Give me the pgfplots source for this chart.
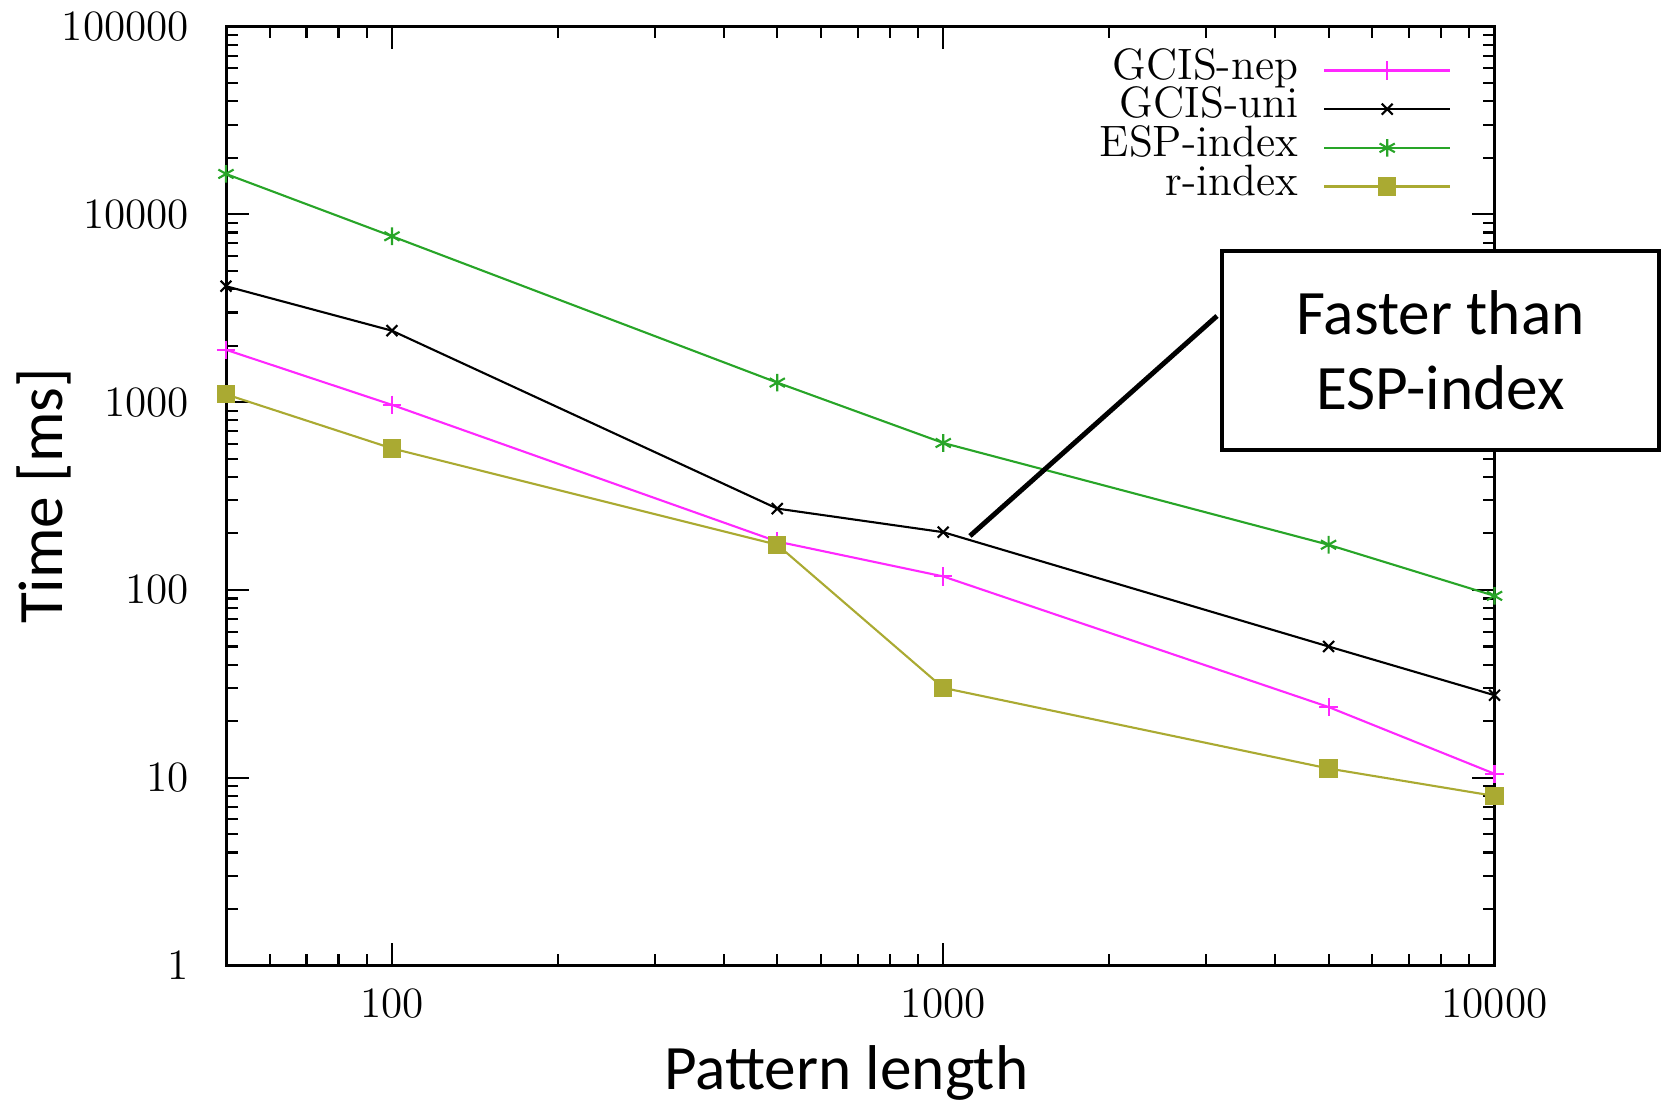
\documentclass[border=0pt]{standalone}
\usepackage{fontspec}
\usepackage{pgfplots}
\pgfplotsset{compat=1.18}
\newfontfamily\carlito{Carlito}
\definecolor{cmag}{RGB}{255,40,255}
\definecolor{cgreen}{RGB}{40,165,40}
\definecolor{colive}{RGB}{170,170,50}
\begin{document}
\begin{tikzpicture}
\path[use as bounding box] (-2.26,-1.354) rectangle (14.36,9.656);
\begin{axis}[
 at={(0,0)}, anchor=south west, name=ax,
 width=12.685cm, height=9.391cm, scale only axis,
 xmode=log, ymode=log,
 xmin=50, xmax=10000, ymin=1, ymax=100000,
 xtick={100,1000,10000}, xticklabels={100,1000,10000},
 ytick={1,10,100,1000,10000,100000}, yticklabels={1,10,100,1000,10000,100000},
 minor xtick={60,70,80,90,200,300,400,500,600,700,800,900,2000,3000,4000,5000,6000,7000,8000,9000},
 minor ytick={2,3,4,5,6,7,8,9,20,30,40,50,60,70,80,90,200,300,400,500,600,700,800,900,2000,3000,4000,5000,6000,7000,8000,9000,20000,30000,40000,50000,60000,70000,80000,90000},
 tick align=inside, major tick length=0.23cm, minor tick length=0.12cm,
 every tick/.style={black, line width=0.6pt},
 axis line style={line width=0.85pt},
 ticklabel style={font=\fontsize{12.3}{14}\selectfont},
 xticklabel style={yshift=-3pt},
 yticklabel style={xshift=-7pt},
 xlabel={Pattern length}, ylabel={Time [ms]},
 label style={font=\carlito\fontsize{18}{21.6}\selectfont},
 xlabel style={at={(axis description cs:0.489,-0.114)}, anchor=center},
 ylabel style={at={(axis description cs:-0.1435,0.5)}, anchor=center},
 clip=false,
 legend cell align=right,
 legend plot pos=right,
 legend style={draw=none, fill=none, at={(axis description cs:1,1)}, anchor=north east, xshift=-0.32cm, yshift=-0.17cm, font=\fontsize{12.5}{14}\selectfont, row sep=0pt, column sep=0.25cm, nodes={inner sep=0pt, text height=8pt, text depth=3pt}},
 legend image code/.code={\draw[mark repeat=2, mark phase=2] plot coordinates {(0cm,0cm) (0.63cm,0cm) (1.26cm,0cm)};},
]
\addplot[cmag, line width=0.6pt, mark=+, mark size=2.6pt] coordinates {(50,1900)(100,967)(500,181)(1000,118)(5000,23.8)(10000,10.5)};
\addlegendentry{GCIS-nep}
\addplot[black, line width=0.6pt, mark=x, mark size=2.2pt] coordinates {(50,4140)(100,2400)(500,271)(1000,203)(5000,50)(10000,27.5)};
\addlegendentry{GCIS-uni}
\addplot[cgreen, line width=0.6pt, mark=asterisk, mark size=2.5pt] coordinates {(50,16400)(100,7640)(500,1270)(1000,606)(5000,174)(10000,93)};
\addlegendentry{ESP-index}
\addplot[colive, line width=0.6pt, mark=square*, mark size=2.3pt] coordinates {(50,1100)(100,567)(500,174)(1000,30.1)(5000,11.2)(10000,8.0)};
\addlegendentry{r-index}
\draw[line width=1.4pt] (axis description cs:0.5865,0.4575) -- (axis description cs:0.7812,0.6917);
\node[draw, line width=1.2pt, fill=white, minimum width=4.37cm, minimum height=1.99cm, align=center, font=\carlito\fontsize{18}{21.3}\selectfont, inner sep=0pt] at (axis description cs:0.9575,0.655) {Faster than\\ESP-index};
\end{axis}
\end{tikzpicture}
\end{document}
